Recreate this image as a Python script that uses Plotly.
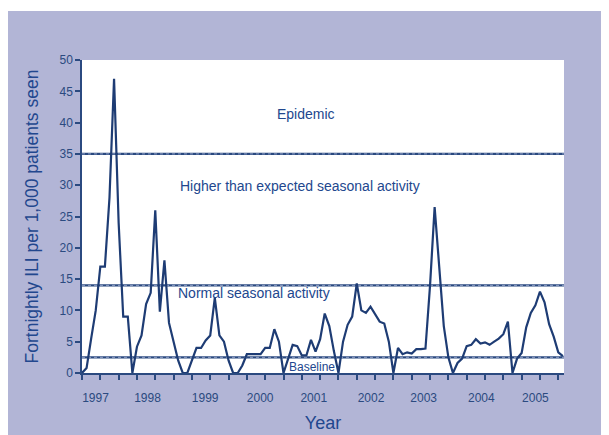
import plotly.graph_objects as go

# Fortnightly ILI per 1,000 patients seen (one value per period)
ili_rate = [
    0, 0.8, 5.5, 10, 17, 17, 28, 47, 24, 9, 9, 0,            # 1997
    4.2, 6, 11, 12.8, 26, 9.8, 18, 8, 5, 2, 0, 0,            # 1998
    2, 4, 4, 5.2, 6, 12, 6, 5, 2, 0, 0, 1.2,                 # 1999
    3, 3, 3, 3, 4, 4, 7, 5, 0, 2.3, 4.5, 4.3,                # 2000
    2.8, 2.8, 5.3, 3.4, 5.4, 9.5, 7.5, 3.5, 0, 5, 7.7, 9,    # 2001
    14.3, 10, 9.6, 10.6, 9.3, 8.2, 7.9, 5, 0, 4, 3, 3.3,     # 2002
    3.1, 3.8, 3.8, 3.9, 14, 26.5, 17, 7.5, 2.5, 0, 1.6, 2.3, # 2003
    4.3, 4.5, 5.4, 4.7, 4.9, 4.5, 5.0, 5.5, 6.2, 8.2, 0, 2.3,# 2004
    3.2, 7.3, 9.6, 10.8, 13.0, 11.3, 7.8, 5.8, 3.3, 2.7,     # 2005
]
period = list(range(len(ili_rate)))

year_labels = ["1997", "1998", "1999", "2000", "2001", "2002", "2003", "2004", "2005"]
year_label_pos = [2.95, 14.3, 26.9, 38.9, 50.6, 63.1, 74.6, 87.2, 99.0]

threshold_values = [35, 14, 2.5]
zone_labels = ["Epidemic", "Higher than expected seasonal activity",
               "Normal seasonal activity", "Baseline"]
zone_label_x = [49.0, 47.5, 37.5, 50.3]
zone_label_y = [41.4, 29.9, 12.8, 0.9]

NAVY = "#1E3C74"
AXIS = "#2B4A80"
TEXT = "#22478E"
BG = "#B2B5D6"

# page body has an 8px margin; figure is sized so that the plot lands where the
# reference has it
W, H = 601, 427
L, R, T, B = 74, 45, 52, 62
PH = H - T - B
PW = W - L - R

fig = go.Figure()

fig.add_trace(go.Scatter(
    x=period, y=ili_rate, mode="lines",
    line=dict(color=NAVY, width=2.2),
    showlegend=False, hoverinfo="skip",
))

# threshold lines (dark line with light dotted centre)
for v in threshold_values:
    fig.add_shape(type="line", xref="paper", x0=0, x1=1, yref="y", y0=v, y1=v,
                  line=dict(color=AXIS, width=2.4), layer="below")
    fig.add_shape(type="line", xref="paper", x0=0, x1=1, yref="y", y0=v, y1=v,
                  line=dict(color="#A9B6D8", width=0.8, dash="dot"), layer="below")

for txt, xx, yy in zip(zone_labels, zone_label_x, zone_label_y):
    fig.add_annotation(x=xx, y=yy, xref="x", yref="y", text=txt, showarrow=False,
                       font=dict(family="Liberation Sans, Arial",
                                 size=12 if txt == "Baseline" else 14, color=TEXT))

# thin white strip along the top of the picture
fig.add_shape(type="rect", xref="paper", yref="paper", x0=-0.3, x1=1.3,
              y0=1 + (T - 3) / PH, y1=1 + (T + 5) / PH, fillcolor="white",
              line=dict(width=0), layer="below")

fig.update_layout(
    width=W, height=H, autosize=False,
    margin=dict(l=L, r=R, t=T, b=B, pad=0),
    paper_bgcolor=BG, plot_bgcolor="white",
    font=dict(family="Liberation Sans, Arial", color=AXIS),
    xaxis=dict(
        range=[0, 105.25], automargin=False,
        tickmode="array", tickvals=year_label_pos, ticktext=year_labels,
        ticks="outside", ticklen=13, tickcolor="rgba(0,0,0,0)",
        tickfont=dict(size=12, color=AXIS),
        minor=dict(tickmode="linear", tick0=0, dtick=4, ticks="outside",
                   ticklen=5, tickwidth=1.5, tickcolor=AXIS, showgrid=False),
        showline=True, linecolor=AXIS, linewidth=1.5,
        showgrid=False, zeroline=False,
        title=dict(text="Year", font=dict(size=18, color=TEXT), standoff=12),
    ),
    yaxis=dict(
        range=[0, 50], tickmode="linear", tick0=0, dtick=5, automargin=False,
        ticks="outside", ticklen=5, tickwidth=1.5, tickcolor=AXIS,
        tickfont=dict(size=12, color=AXIS),
        showline=True, linecolor=AXIS, linewidth=1.5,
        showgrid=False, zeroline=False,
        title=dict(text="Fortnightly ILI per 1,000 patients seen",
                   font=dict(size=17.5, color=TEXT), standoff=16),
    ),
)

fig.write_html("out.html")
